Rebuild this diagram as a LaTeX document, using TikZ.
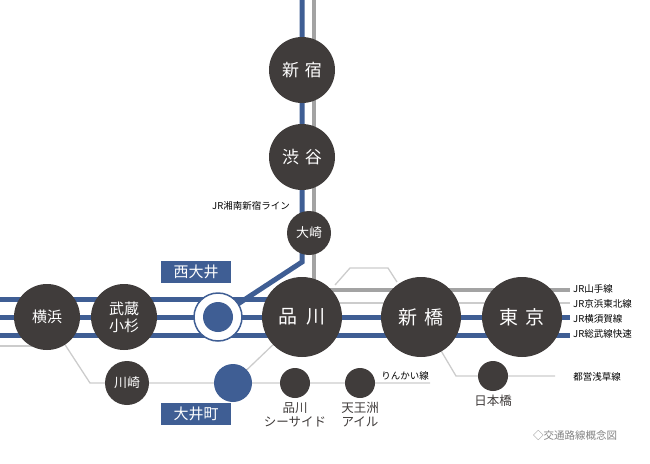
\documentclass[tikz,border=0pt]{standalone}
\usepackage{fontspec}
\setmainfont{Noto Sans CJK JP}
\usetikzlibrary{positioning}
\definecolor{stdark}{HTML}{403C3B}
\definecolor{lineblue}{HTML}{3F5E94}
\definecolor{linegray}{HTML}{A3A3A3}
\definecolor{linelight}{HTML}{CCCCCC}
\tikzstyle{bigst} = [circle, fill=stdark, text=white, minimum size=80pt, inner sep=0pt, font=\fontsize{19}{19}\selectfont]
\tikzstyle{midst} = [circle, fill=stdark, text=white, minimum size=66pt, inner sep=0pt, font=\fontsize{17}{19}\selectfont, align=center]
\tikzstyle{kosugist} = [midst, font=\fontsize{15}{17}\selectfont]
\tikzstyle{smallst} = [circle, fill=stdark, text=white, minimum size=44pt, inner sep=0pt, font=\fontsize{13}{14}\selectfont]
\tikzstyle{tinyst} = [circle, fill=stdark, minimum size=30pt, inner sep=0pt]
\tikzstyle{namebox} = [fill=lineblue, text=white, inner sep=2pt, minimum width=70pt, minimum height=22pt, font=\fontsize{15}{15}\selectfont]
\tikzstyle{linelabel} = [font=\fontsize{9.5}{10}\selectfont, inner sep=1pt]
\tikzstyle{stlabel} = [font=\fontsize{12.5}{14}\selectfont, text=stdark, align=center, inner sep=0pt]
\tikzstyle{blueline} = [draw=lineblue, line width=5pt]
\tikzstyle{grayline} = [draw=linegray, line width=4pt]
\tikzstyle{thinline} = [draw=linelight, line width=1.3pt]
\begin{document}
\begin{tikzpicture}[x=1pt,y=-1pt]
  \useasboundingbox (0,0) rectangle (650,463);
  % lines
  \coordinate (westA) at (0,299);
  \coordinate (westB) at (0,317);
  \coordinate (westC) at (0,335);
  \coordinate (westD) at (0,346);
  \draw[grayline] (314,0) -- (314,317);
  \draw[blueline] (302,0) -- (302,262) -- (218,317);
  \draw[blueline] (westA) -- (302,299);
  \draw[blueline] (westB) -- (570,317);
  \draw[blueline] (westC) -- (570,335);
  \draw[thinline] (westD) -- (47,346);
  \draw[grayline] (302,290) -- (570,290);
  \draw[thinline] (302,303) -- (570,303);
  \draw[thinline] (335,285) -- (350,268) -- (388,268) -- (397,282);
  \draw[thinline] (47,317) -- (90,383) -- (430,383);
  \draw[thinline] (233,383) -- (302,317);
  \draw[thinline] (421,317) -- (456,376) -- (555,376);
  % stations
  \node[midst] (shinjuku) at (302,70) {新\,\,宿};
  \node[midst] (shibuya) at (302,157) {渋\,\,谷};
  \node[smallst] (osaki) at (309,233) {大崎};
  \node[kosugist] (yokohama) at (47,317) {横浜};
  \node[kosugist] (kosugi) at (124,317) {武蔵\\小杉};
  \node[circle, fill=white, draw=lineblue, line width=1.5pt, minimum size=48pt] (nishioi) at (218,317) {};
  \node[circle, fill=lineblue, minimum size=30pt] at (nishioi) {};
  \node[bigst] (shinagawa) at (302,317) {品\,\,\,川};
  \node[bigst] (shimbashi) at (421,317) {新\,\,橋};
  \node[bigst] (tokyo) at (522,317) {東\,\,京};
  \node[smallst] (kawasaki) at (127,383) {川崎};
  \node[circle, fill=lineblue, minimum size=38pt] (oimachi) at (233,383) {};
  \node[tinyst] (seaside) at (295,383) {};
  \node[tinyst] (tennozu) at (360,383) {};
  \node[tinyst] (nihombashi) at (493,376) {};
  % labels
  \node[namebox] (nishioilabel) at (196,272) {西大井};
  \node[namebox] (oimachilabel) at (196,414) {大井町};
  \node[stlabel, below=4pt of seaside] {品川\\シーサイド};
  \node[stlabel, below=4pt of tennozu] {天王洲\\アイル};
  \node[stlabel, below=4pt of nihombashi] {日本橋};
  \node[linelabel, anchor=east] at (291,206) {JR湘南新宿ライン};
  \node[linelabel, anchor=west] at (572,289) {JR山手線};
  \node[linelabel, anchor=west] at (572,304) {JR京浜東北線};
  \node[linelabel, anchor=west] at (572,319) {JR横須賀線};
  \node[linelabel, anchor=west] at (572,334) {JR総武線快速};
  \node[linelabel] at (405,376) {りんかい線};
  \node[linelabel] at (597,377) {都営浅草線};
  \node[font=\fontsize{10.5}{11}\selectfont, text=linegray!80!black] at (575,436) {◇交通路線概念図};
\end{tikzpicture}
\end{document}
